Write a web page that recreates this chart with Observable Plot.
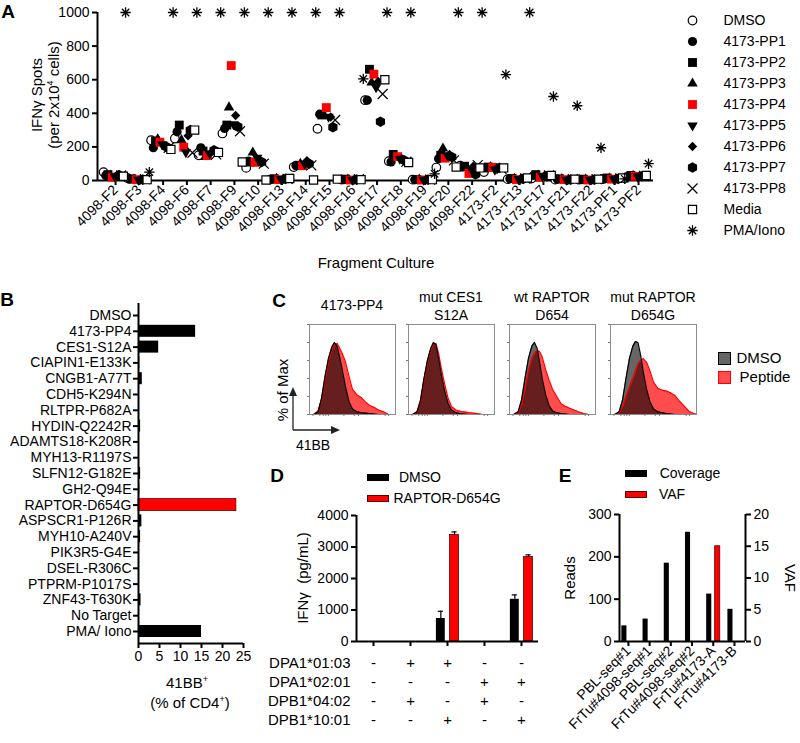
<!DOCTYPE html>
<html><head><meta charset="utf-8">
<script src="https://cdn.jsdelivr.net/npm/d3@7"></script>
<script src="https://cdn.jsdelivr.net/npm/@observablehq/plot@0.6"></script>
<style>
body{margin:0;background:#fff;}
#fig{position:relative;width:800px;height:743px;font-family:"Liberation Sans",Arial,sans-serif;color:#000;overflow:hidden;background:#fff;}
#fig svg{position:absolute;}
.t{position:absolute;white-space:nowrap;font-size:14px;line-height:1.15;transform:translate(-50%,-50%);text-align:center;}
.p{position:absolute;font-weight:bold;font-size:19px;transform:translate(-50%,-50%);line-height:1;}
.box{position:absolute;}
</style></head><body><div id="fig"></div>
<script>
// ---------- DATA ----------
// Panel A
const fragments = ["4098-F2","4098-F3","4098-F4","4098-F6","4098-F7","4098-F9","4098-F10","4098-F13","4098-F14","4098-F15","4098-F16","4098-F17","4098-F18","4098-F19","4098-F20","4098-F22","4173-F2","4173-F13","4173-F17","4173-F21","4173-F22","4173-PF1","4173-PF2"];
const seriesNamesA = ["DMSO","4173-PP1","4173-PP2","4173-PP3","4173-PP4","4173-PP5","4173-PP6","4173-PP7","4173-PP8","Media","PMA/Iono"];
const spotsDMSO  = [50,15,240,250,150,280,75,5,80,308,5,478,115,5,77,88,50,8,12,5,5,8,20];
const spotsPP1   = [30,8,195,290,195,310,115,8,90,395,5,478,110,5,130,80,75,10,30,8,5,10,25];
const spotsPP2   = [35,10,235,330,175,330,110,10,90,390,8,662,155,5,150,85,80,12,35,10,8,15,30];
const spotsPP3   = [30,5,245,240,140,435,167,10,100,385,5,583,140,5,190,75,80,10,30,8,5,12,28];
const spotsPP4   = [20,5,228,198,148,684,108,5,88,434,3,633,142,3,133,42,78,5,20,5,3,8,25];
const spotsPP5   = [25,5,215,168,160,335,135,8,100,380,5,555,130,5,150,70,65,8,25,5,5,10,25];
const spotsPP6   = [30,8,205,266,170,387,120,10,118,378,8,590,130,5,155,85,70,12,30,8,5,12,28];
const spotsPP7   = [32,5,200,300,180,320,110,10,100,317,5,350,120,5,140,36,75,10,25,5,5,10,25];
const spotsPP8   = [30,8,195,165,155,293,100,10,90,360,8,515,112,5,120,92,70,12,30,8,8,12,28];
const spotsMedia = [25,5,185,300,167,110,3,12,3,8,5,600,107,5,80,75,75,15,30,8,8,15,30];
const spotsPMA   = [1000,50,1000,1000,1000,1000,1000,1000,1000,1000,605,1000,1000,40,1000,1000,630,1000,500,445,195,10,100];
const seriesValuesA = [spotsDMSO,spotsPP1,spotsPP2,spotsPP3,spotsPP4,spotsPP5,spotsPP6,spotsPP7,spotsPP8,spotsMedia,spotsPMA];
const yTicksA = [0,200,400,600,800,1000];

// Panel B
const peptidesB = ["DMSO","4173-PP4","CES1-S12A","CIAPIN1-E133K","CNGB1-A77T","CDH5-K294N","RLTPR-P682A","HYDIN-Q2242R","ADAMTS18-K208R","MYH13-R1197S","SLFN12-G182E","GH2-Q94E","RAPTOR-D654G","ASPSCR1-P126R","MYH10-A240V","PIK3R5-G4E","DSEL-R306C","PTPRM-P1017S","ZNF43-T630K","No Target","PMA/ Iono"];
const pct41BB = [0.2,13.6,4.8,0.3,0.9,0.2,0.2,0.5,0.2,0.2,0.5,0.3,23.3,0.8,0.5,0.2,0.2,0.2,0.6,0.2,15.0];
const xTicksB = [0,5,10,15,20,25];

// Panel C (histograms, % of max vs 41BB position 0-100)
const histTitles = [["4173-PP4"],["mut CES1","S12A"],["wt RAPTOR","D654"],["mut RAPTOR","D654G"]];
const histX = [0,5,10,14,18,22,26,29,32,35,38,42,46,50,55,60,65,70,75,80,86,92,100];
const histDMSO1 = [0,0,3,18,42,62,75,80,76,64,50,30,14,6,3,2,1.5,1,0.5,0,0,0,0];
const histPep1  = [0,0,4,16,38,58,72,77,79,74,68,58,42,28,22,19,14,10,8,5,3,0,0];
const histDMSO2 = [0,0,3,16,40,60,74,80,77,62,45,26,12,5,2,1,0.5,0,0,0,0,0,0];
const histPep2  = [0,0,3,14,38,58,72,78,79,68,52,34,18,9,5,3.5,3,2,1.5,1,0,0,0];
const histDMSO3 = [0,0,3,16,40,62,76,80,74,58,40,22,10,4,2,1,0.5,0,0,0,0,0,0];
const histPep3  = [0,0,2,10,28,48,62,68,71,70,64,50,38,28,20,12,9,7,5,3,1,0,0];
const histDMSO4 = [0,0,3,16,40,62,76,81,80,66,48,28,14,6,3,2,1,0.5,0,0,0,0,0];
const histPep4  = [0,0,2,8,20,30,40,48,56,60,62,58,48,36,29,27,26,24,21,15,9,3,0];
const histDMSO = [histDMSO1,histDMSO2,histDMSO3,histDMSO4];
const histPep = [histPep1,histPep2,histPep3,histPep4];

// Panel D
const hlaRows = ["DPA1*01:03","DPA1*02:01","DPB1*04:02","DPB1*10:01"];
const hlaSigns = [["-","+","+","-","-"],["-","-","-","+","+"],["-","+","-","+","-"],["-","-","+","-","+"]];
const ifnDMSO = [0,0,730,0,1340];
const ifnDMSOerr = [0,0,230,0,140];
const ifnRaptor = [0,0,3380,0,2680];
const ifnRaptorErr = [0,0,100,0,70];
const yTicksD = [0,1000,2000,3000,4000];

// Panel E
const samplesE = ["PBL-seq#1","FrTu#4098-seq#1","PBL-seq#2","FrTu#4098-seq#2","FrTu#4173-A","FrTu#4173-B"];
const coverageE = [37,53,185,258,112,76];
const vafE = [0,0,0,0,15,0];
const readsTicks = [0,100,200,300];
const vafTicks = [0,5,10,15,20];

// ---------- HELPERS ----------
const fig = document.getElementById("fig");
const FONT = '"Liberation Sans", Arial, sans-serif';
const RED = "#ff0000";
const plain = d => String(d);
function st(fs){return {fontFamily:FONT,fontSize:fs+"px",background:"transparent",overflow:"visible",color:"black"};}
function put(node,left,top){node.style.left=left+"px";node.style.top=top+"px";fig.appendChild(node);return node;}
function txt(html,x,y,fs=14,rot=0,cls="t"){const d=document.createElement("div");d.className=cls;d.innerHTML=html;d.style.fontSize=fs+"px";if(rot)d.style.transform=`translate(-50%,-50%) rotate(${rot}deg)`;return put(d,x,y);}
function box(x,y,w,h,fill,stroke){const d=document.createElement("div");d.className="box";d.style.width=w+"px";d.style.height=h+"px";d.style.background=fill;d.style.boxSizing="border-box";if(stroke)d.style.border="1px solid "+stroke;return put(d,x,y);}

const downTriangle={draw(ctx,size){const y=Math.sqrt(size/(3*Math.sqrt(3)));ctx.moveTo(0,2*y);ctx.lineTo(-Math.sqrt(3)*y,-y);ctx.lineTo(Math.sqrt(3)*y,-y);ctx.closePath();}};
const star8={draw(ctx,size){const r=Math.sqrt(size/Math.PI);for(let k=0;k<4;k++){const a=k*Math.PI/4;ctx.moveTo(r*Math.cos(a),r*Math.sin(a));ctx.lineTo(-r*Math.cos(a),-r*Math.sin(a));}}};
const styleA=[
 {symbol:"circle",fill:"white",stroke:"black",r:4.3,strokeWidth:1.2},
 {symbol:"circle",fill:"black",r:4.6},
 {symbol:"square",fill:"black",r:5},
 {symbol:"triangle",fill:"black",r:3.9},
 {symbol:"square",fill:RED,r:5},
 {symbol:downTriangle,fill:"black",r:3.9},
 {symbol:"diamond2",fill:"black",r:4.2},
 {symbol:"hexagon",fill:"black",r:4.6},
 {symbol:"times",fill:"none",stroke:"black",r:4.6,strokeWidth:1.2},
 {symbol:"square",fill:"white",stroke:"black",r:4.6,strokeWidth:1.2},
 {symbol:star8,fill:"none",stroke:"black",r:5.2,strokeWidth:1.3}
];

// ---------- PANEL A ----------
const xA=[-0.76,22.63];
const plotA=Plot.plot({
  width:665,height:290,marginLeft:97,marginRight:12,marginTop:12,marginBottom:110,
  style:st(14),x:{domain:xA},y:{domain:[0,1000]},
  marks:[
    Plot.ruleX([xA[0]],{strokeWidth:2}),
    Plot.ruleY([0],{strokeWidth:2}),
    Plot.axisY({ticks:yTicksA,tickFormat:plain,tickSize:5,tickPadding:3,strokeWidth:2,label:null,fontSize:14}),
    Plot.axisX({ticks:d3.range(fragments.length),tickFormat:i=>fragments[i],tickRotate:-45,tickSize:5,tickPadding:2,strokeWidth:2,label:null,fontSize:14}),
    ...seriesNamesA.map((s,k)=>Plot.dot(fragments.map((f,i)=>({i,v:seriesValuesA[k][i]})),{x:"i",y:"v",dx:-12+k*2.2,...styleA[k]}))
  ]
});
put(plotA,0,0);
const legA=Plot.plot({
  width:120,height:240,marginLeft:12,marginRight:100,marginTop:12,marginBottom:12,style:st(14),
  x:{domain:[0,1],axis:null},y:{type:"point",domain:seriesNamesA,padding:0,axis:null},
  marks:[
    ...seriesNamesA.map((s,k)=>Plot.dot([s],{x:0,y:d=>d,...styleA[k]})),
    Plot.text(seriesNamesA,{x:0,y:d=>d,text:d=>d,dx:31,textAnchor:"start",fontSize:14})
  ]
});
put(legA,680,5);
txt("A",8,11,19,0,"p");
txt("IFNγ Spots<br>(per 2x10<sup style='font-size:9px'>4</sup> cells)",45,95,15,-90);
txt("Fragment Culture",376,263,15);

// ---------- PANEL B ----------
const yB=[20.76,-0.76];
const dataB=peptidesB.map((p,i)=>({i,v:pct41BB[i],p}));
const plotB=Plot.plot({
  width:260,height:420,marginLeft:138,marginRight:17,marginTop:3,marginBottom:77,
  style:st(14),x:{domain:[0,25]},y:{domain:yB},
  marks:[
    Plot.rectX(dataB.filter(d=>d.p!=="RAPTOR-D654G"),{x1:0,x2:"v",y1:d=>d.i-0.38,y2:d=>d.i+0.38,fill:"black"}),
    Plot.rectX(dataB.filter(d=>d.p==="RAPTOR-D654G"),{x1:0,x2:"v",y1:d=>d.i-0.38,y2:d=>d.i+0.38,fill:RED,stroke:"#6b0000",strokeWidth:0.8}),
    Plot.ruleX([0],{strokeWidth:2}),
    Plot.ruleY([yB[0]],{strokeWidth:2}),
    Plot.axisY({ticks:d3.range(peptidesB.length),tickFormat:i=>peptidesB[i],tickSize:5,tickPadding:2,strokeWidth:2,label:null,fontSize:14}),
    Plot.axisX({ticks:xTicksB,tickFormat:plain,tickSize:5,tickPadding:3,strokeWidth:2,label:null,fontSize:14})
  ]
});
put(plotB,0,300);
txt("B",7,299,19,0,"p");
txt("41BB<sup style='font-size:9px'>+</sup>",187,683,15);
txt("(% of CD4<sup style='font-size:9px'>+</sup>)",190,703,15);

// ---------- PANEL C ----------
txt("C",279,300,19,0,"p");
const boxLefts=[309,408,509,610];
histTitles.forEach((t,k)=>{
  const dm=histX.map((u,j)=>({u,h:histDMSO[k][j]}));
  const pp=histX.map((u,j)=>({u,h:histPep[k][j]}));
  const p=Plot.plot({
    width:100,height:100,marginLeft:8,marginRight:6,marginTop:4,marginBottom:6,style:st(10),
    x:{domain:[0,100]},y:{domain:[0,100]},
    marks:[
      Plot.areaY(pp,{x:"u",y:"h",fill:RED,fillOpacity:0.7}),
      Plot.areaY(dm,{x:"u",y:"h",fill:"black",fillOpacity:0.6}),
      Plot.lineY(pp,{x:"u",y:"h",stroke:RED,strokeWidth:1.2}),
      Plot.lineY(dm,{x:"u",y:"h",stroke:"black",strokeWidth:1.2}),
      Plot.frame({stroke:"#8c8c8c"}),
      Plot.axisY({ticks:[0,20,40,60,80,100],tickSize:2,tickFormat:()=>"",stroke:"#777",label:null}),
      Plot.axisX({ticks:[4,12,16,19,22,40,52,57,88,92],tickSize:2,tickFormat:()=>"",stroke:"#777",label:null})
    ]
  });
  put(p,boxLefts[k]-8,320);
  const cx=boxLefts[k]+43;
  if(t.length===1) txt(t[0],cx,305,14); else {txt(t[0],cx,297,14);txt(t[1],cx,315,14);}
});
txt("% of Max",283,390,15,-90);
const arrow=document.createElementNS("http://www.w3.org/2000/svg","svg");
arrow.setAttribute("width","70");arrow.setAttribute("height","60");
arrow.innerHTML='<line x1="13" y1="48" x2="13" y2="10" stroke="#222" stroke-width="1.3"/><path d="M9,14 L13,5 L17,14 Z" fill="#222"/><line x1="13" y1="48" x2="55" y2="48" stroke="#222" stroke-width="1.3"/><path d="M51,44 L60,48 L51,52 Z" fill="#222"/>';
put(arrow,280,382);
txt("41BB",313,445,14);
box(718,352,13,13,"rgba(0,0,0,0.6)","#000");
box(718,371,13,13,"rgba(255,0,0,0.7)",RED);
txt("DMSO",759,358,15);
txt("Peptide",765,377,15);

// ---------- PANEL D ----------
txt("D",277,475,19,0,"p");
box(367,474,22,7,"#000");
txt("DMSO",420,477,14);
box(367,495,22,7,RED,"#5a0000");
txt("RAPTOR-D654G",447,498,14);
const xD=[-0.46,4.46];
const dDM=ifnDMSO.map((v,i)=>({i,v,e:ifnDMSOerr[i]}));
const dRP=ifnRaptor.map((v,i)=>({i,v,e:ifnRaptorErr[i]}));
const plotD=Plot.plot({
  width:282,height:150,marginLeft:96,marginRight:4,marginTop:15,marginBottom:9,
  style:st(14),x:{domain:xD},y:{domain:[0,4000]},
  marks:[
    Plot.rectY(dDM.filter(d=>d.v>0),{x1:d=>d.i-0.30,x2:d=>d.i-0.06,y1:0,y2:"v",fill:"black"}),
    Plot.rectY(dRP.filter(d=>d.v>0),{x1:d=>d.i+0.07,x2:d=>d.i+0.31,y1:0,y2:"v",fill:RED,stroke:"#5a0000",strokeWidth:0.8}),
    Plot.ruleX(dDM.filter(d=>d.v>0),{x:d=>d.i-0.18,y1:"v",y2:d=>d.v+d.e,stroke:"black",strokeWidth:1.2}),
    Plot.ruleY(dDM.filter(d=>d.v>0),{y:d=>d.v+d.e,x1:d=>d.i-0.25,x2:d=>d.i-0.11,stroke:"black",strokeWidth:1.2}),
    Plot.ruleX(dRP.filter(d=>d.v>0),{x:d=>d.i+0.19,y1:"v",y2:d=>d.v+d.e,stroke:"black",strokeWidth:1.2}),
    Plot.ruleY(dRP.filter(d=>d.v>0),{y:d=>d.v+d.e,x1:d=>d.i+0.12,x2:d=>d.i+0.26,stroke:"black",strokeWidth:1.2}),
    Plot.ruleX([xD[0]],{strokeWidth:2}),
    Plot.ruleY([0],{strokeWidth:2}),
    Plot.axisY({ticks:yTicksD,tickFormat:plain,tickSize:5,tickPadding:3,strokeWidth:2,label:null,fontSize:14}),
    Plot.axisX({ticks:d3.range(5),tickFormat:()=>"",tickSize:5,strokeWidth:2,label:null})
  ]
});
put(plotD,260,500);
txt("IFNγ&nbsp; (pg/mL)",303,578,15,-90);
const tableD=[];
hlaRows.forEach((r,ri)=>hlaSigns[ri].forEach((s,c)=>tableD.push({row:r,c,s})));
const plotTable=Plot.plot({
  width:282,height:80,marginLeft:96,marginRight:4,marginTop:11,marginBottom:12,
  style:st(15),x:{domain:xD,axis:null},y:{type:"point",domain:hlaRows,padding:0},
  marks:[
    Plot.text(tableD,{x:"c",y:"row",text:"s",fontSize:15}),
    Plot.axisY({tickSize:0,tickPadding:6,label:null,fontSize:15})
  ]
});
put(plotTable,260,652);

// ---------- PANEL E ----------
txt("E",565,475,19,0,"p");
box(625,470,22,7,"#000");
txt("Coverage",690,473,14);
box(625,491,22,7,RED,"#5a0000");
txt("VAF",672,494,14);
const readsMax=300, vafMax=20, k=readsMax/vafMax;
const xE=[-0.42,5.52];
const dCov=coverageE.map((v,i)=>({i,v}));
const dVaf=vafE.map((v,i)=>({i,v})).filter(d=>d.v>0);
const plotE=Plot.plot({
  width:240,height:243,marginLeft:59,marginRight:55,marginTop:14,marginBottom:102,
  style:st(14),x:{domain:xE},y:{domain:[0,readsMax]},
  marks:[
    Plot.rectY(dCov,{x1:d=>d.i-0.31,x2:d=>d.i-0.07,y1:0,y2:"v",fill:"black"}),
    Plot.rectY(dVaf,{x1:d=>d.i+0.09,x2:d=>d.i+0.33,y1:0,y2:d=>d.v*k,fill:RED,stroke:"#5a0000",strokeWidth:0.8}),
    Plot.ruleX([xE[0]],{strokeWidth:2}),
    Plot.ruleX([xE[1]],{strokeWidth:2}),
    Plot.ruleY([0],{strokeWidth:2}),
    Plot.axisY({ticks:readsTicks,tickFormat:plain,tickSize:5,tickPadding:3,strokeWidth:2,label:null,fontSize:14}),
    Plot.axisY({anchor:"right",ticks:vafTicks.map(v=>v*k),tickFormat:d=>String(d/k),tickSize:5,tickPadding:3,strokeWidth:2,label:null,fontSize:14}),
    Plot.axisX({ticks:d3.range(samplesE.length),tickFormat:i=>samplesE[i],tickRotate:-45,tickSize:5,tickPadding:2,strokeWidth:2,label:null,fontSize:14})
  ]
});
put(plotE,560,500);
txt("Reads",570,578,15,-90);
txt("VAF",790,578,15,90);
</script></body></html>
